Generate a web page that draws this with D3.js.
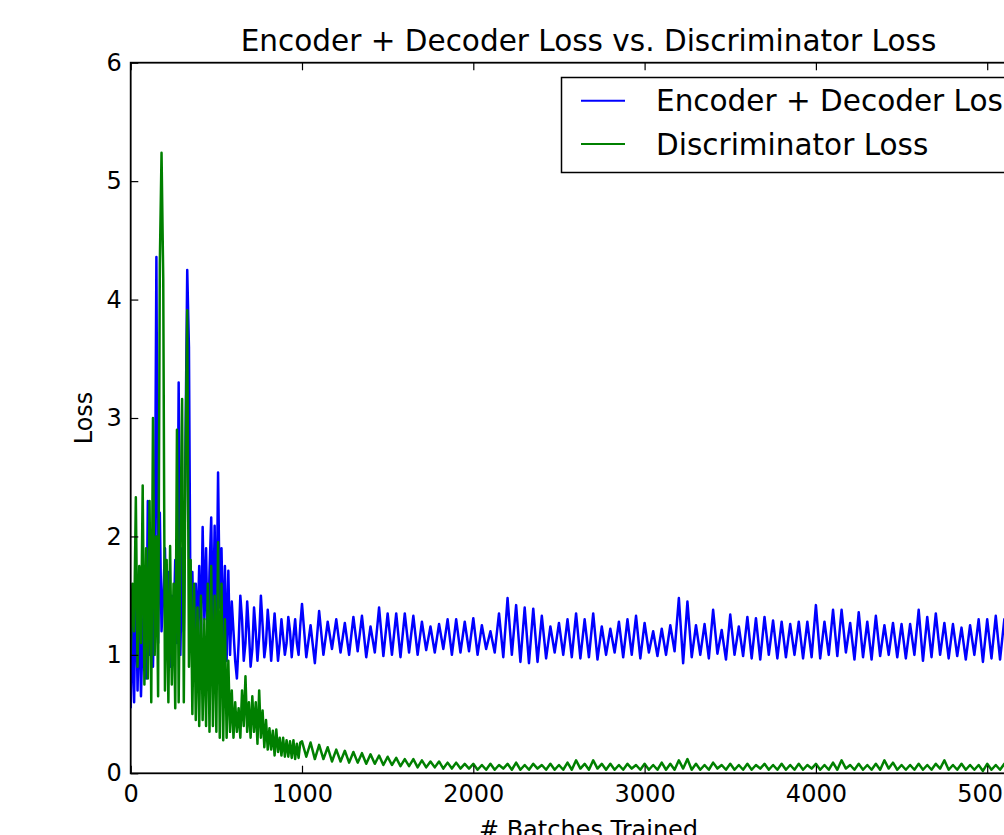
<!DOCTYPE html>
<html>
<head>
<meta charset="utf-8">
<script src="https://cdn.jsdelivr.net/npm/d3@7"></script>
<style>
  body { margin: 0; background: #fff; }
  text { font-family: "DejaVu Sans", sans-serif; fill: #000; }
</style>
</head>
<body>
<div id="chart"></div>
<script>
// Encoder + Decoder Loss vs. Discriminator Loss
const title = 'Encoder + Decoder Loss vs. Discriminator Loss';
const xLabel = '# Batches Trained';
const yLabel = 'Loss';
const seriesNames = ['Encoder + Decoder Loss', 'Discriminator Loss'];
const seriesColors = ['#0000ff', '#008000'];
const xTicks = [0, 1000, 2000, 3000, 4000, 5000];
const yTicks = [0, 1, 2, 3, 4, 5, 6];
const xMax = 5345;

// batches 0..990, every 10
const earlyStep = 10;
const encDecEarly = [
  0.55, 1.3, 0.6, 1.75, 0.7, 1.45, 0.65, 1.2, 1.5, 0.8,
  2.3, 1.0, 1.4, 0.9, 1.6, 4.36, 1.1, 2.2, 1.2, 1.5,
  1.9, 1.0, 1.7, 0.9, 1.5, 1.2, 1.8, 1.1, 3.3, 1.0,
  1.9, 1.2, 2.8, 4.25, 3.6, 1.1, 1.7, 1.0, 1.6, 1.2,
  1.75, 1.1, 2.08, 1.3, 1.9, 1.0, 1.7, 2.16, 1.2, 2.09,
  1.1, 2.54, 1.4, 1.9, 1.1, 1.75, 0.95, 1.71, 1.0, 1.45,
  1.2, 0.95, 0.8, 1.1, 1.5, 1.3, 0.95, 1.1, 1.45, 1.2,
  0.9, 1.05, 1.4, 1.2, 0.95, 1.15, 1.5, 1.25, 0.98, 1.1,
  1.38, 1.2, 0.95, 1.15, 1.35, 1.15, 0.95, 1.1, 1.3, 1.15,
  1.0, 1.1, 1.32, 1.2, 0.98, 1.15, 1.3, 1.1, 1.0, 1.25
];
const discEarly = [
  1.0, 1.6, 1.2, 2.33, 0.9, 1.75, 1.1, 2.43, 0.75, 1.9,
  0.8, 2.3, 0.6, 3.0, 1.0, 2.0, 0.65, 4.3, 5.24, 4.17,
  0.7, 1.8, 0.6, 1.92, 0.75, 1.6, 0.55, 2.9, 0.6, 1.95,
  3.16, 0.6, 2.7, 3.91, 0.9, 1.8, 0.5, 1.6, 0.45, 1.4,
  0.4, 1.5, 0.45, 1.3, 0.4, 1.6, 0.35, 1.75, 0.4, 1.5,
  0.35, 1.95, 0.3, 1.6, 0.28, 1.3, 0.3, 0.95, 0.35, 0.7,
  0.3, 0.6, 0.35, 0.55, 0.3, 0.7, 0.4, 0.82, 0.35, 0.6,
  0.3, 0.65, 0.35, 0.6, 0.25, 0.7, 0.3, 0.53, 0.22, 0.45,
  0.2, 0.38, 0.2, 0.36, 0.15, 0.37, 0.18, 0.3, 0.15, 0.3,
  0.14, 0.28, 0.14, 0.27, 0.13, 0.28, 0.12, 0.25, 0.13, 0.26
];

// batches 1000..5325, every 25
const lateStart = 1000;
const lateStep = 25;
const encDecLate = [
  1.43, 0.98, 1.25, 0.93, 1.37, 1.0, 1.28, 1.05, 1.30, 1.02,
  1.27, 1.0, 1.32, 1.03, 1.33, 0.98, 1.24, 1.02, 1.40, 0.99,
  1.35, 1.0, 1.35, 0.98, 1.35, 1.02, 1.33, 1.0, 1.28, 1.04,
  1.24, 1.02, 1.26, 1.05, 1.3, 1.0, 1.3, 1.02, 1.28, 1.03,
  1.31, 1.0, 1.25, 1.05, 1.2, 1.02, 1.35, 0.98, 1.48, 1.0,
  1.42, 0.94, 1.40, 0.93, 1.39, 0.94, 1.33, 0.97, 1.24, 1.02,
  1.27, 1.0, 1.3, 0.98, 1.35, 0.97, 1.3, 0.98, 1.35, 0.96,
  1.24, 1.0, 1.22, 1.02, 1.28, 0.98, 1.3, 1.0, 1.33, 0.97,
  1.27, 1.02, 1.2, 0.99, 1.22, 1.0, 1.25, 1.03, 1.48, 0.93,
  1.45, 0.98, 1.25, 1.0, 1.26, 0.97, 1.38, 1.01, 1.21, 0.96,
  1.34, 1.0, 1.24, 0.99, 1.32, 0.97, 1.31, 0.96, 1.32, 1.0,
  1.29, 0.97, 1.28, 0.98, 1.26, 1.0, 1.28, 0.97, 1.28, 0.98,
  1.42, 0.97, 1.28, 1.0, 1.38, 0.99, 1.38, 1.02, 1.27, 0.96,
  1.36, 0.98, 1.28, 0.96, 1.33, 0.99, 1.25, 1.0, 1.27, 0.98,
  1.26, 0.97, 1.26, 1.0, 1.38, 0.95, 1.32, 0.98, 1.35, 1.0,
  1.27, 0.97, 1.26, 0.99, 1.23, 0.96, 1.25, 1.0, 1.3, 0.94,
  1.3, 0.97, 1.33, 0.96, 1.3, 0.98, 1.28, 1.0, 1.35, 0.96,
  1.27, 0.98, 1.3, 0.97
];
const discLate = [
  0.27, 0.14, 0.26, 0.12, 0.24, 0.12, 0.22, 0.1, 0.2, 0.1,
  0.19, 0.09, 0.18, 0.09, 0.17, 0.08, 0.16, 0.08, 0.15, 0.07,
  0.14, 0.07, 0.13, 0.06, 0.12, 0.06, 0.12, 0.05, 0.11, 0.05,
  0.1, 0.05, 0.1, 0.04, 0.09, 0.04, 0.09, 0.04, 0.08, 0.04,
  0.08, 0.03,
  0.07, 0.03, 0.08, 0.03, 0.07, 0.04, 0.08, 0.03, 0.09, 0.03,
  0.07, 0.03, 0.08, 0.04, 0.07, 0.03, 0.08, 0.03, 0.07, 0.03,
  0.09, 0.03, 0.11, 0.04, 0.08, 0.03, 0.11, 0.04, 0.08, 0.03,
  0.08, 0.03, 0.07, 0.03, 0.08, 0.04, 0.07, 0.03, 0.08, 0.03,
  0.07, 0.03, 0.09, 0.03, 0.08, 0.03, 0.11, 0.04, 0.12, 0.03,
  0.08, 0.03, 0.07, 0.03, 0.09, 0.04, 0.07, 0.03, 0.08, 0.03,
  0.07, 0.03, 0.08, 0.03, 0.07, 0.04, 0.08, 0.03, 0.07, 0.03,
  0.08, 0.03, 0.07, 0.03, 0.08, 0.03, 0.07, 0.04, 0.08, 0.03,
  0.07, 0.03, 0.09, 0.03, 0.11, 0.04, 0.07, 0.03, 0.08, 0.03,
  0.07, 0.03, 0.08, 0.03, 0.11, 0.04, 0.09, 0.03, 0.07, 0.03,
  0.07, 0.03, 0.08, 0.03, 0.07, 0.03, 0.08, 0.04, 0.11, 0.03,
  0.07, 0.03, 0.08, 0.03, 0.07, 0.03, 0.07, 0.02, 0.08, 0.03,
  0.07, 0.03, 0.08, 0.03, 0.07, 0.03, 0.08, 0.03, 0.07, 0.03,
  0.07, 0.03
];

const toPoints = (early, late) =>
  early.map((v, i) => [i * earlyStep, v])
    .concat(late.map((v, i) => [lateStart + i * lateStep, v]));

const series = [toPoints(encDecEarly, encDecLate), toPoints(discEarly, discLate)];

const width = 1004, height = 835;
const plot = {left: 130.7, right: 1046.3, top: 62.7, bottom: 773.3};

const svg = d3.select('#chart').append('svg')
  .attr('width', width)
  .attr('height', height)
  .style('display', 'block');

svg.append('rect').attr('width', width).attr('height', height).attr('fill', '#fff');

const x = d3.scaleLinear().domain([0, xMax]).range([plot.left, plot.right]);
const y = d3.scaleLinear().domain([0, 6]).range([plot.bottom, plot.top]);

svg.append('clipPath').attr('id', 'plotClip')
  .append('rect')
  .attr('x', plot.left).attr('y', plot.top)
  .attr('width', plot.right - plot.left).attr('height', plot.bottom - plot.top);

const line = d3.line().x(d => x(d[0])).y(d => y(d[1]));

svg.append('g').attr('clip-path', 'url(#plotClip)')
  .selectAll('path')
  .data(series).enter().append('path')
  .attr('d', line)
  .attr('fill', 'none')
  .attr('stroke', (d, i) => seriesColors[i])
  .attr('stroke-width', 2.5)
  .attr('stroke-linejoin', 'round');

// ticks point inward on all four sides
const tickLen = 7.6;
const styleAxis = g => {
  g.select('.domain').remove();
  g.selectAll('.tick line').attr('stroke', '#000').attr('stroke-width', 1.2);
  g.selectAll('.tick text')
    .style('font-family', '"DejaVu Sans", sans-serif')
    .style('font-size', '24px')
    .attr('fill', '#000');
};

svg.append('g').attr('transform', `translate(0,${plot.bottom})`)
  .call(d3.axisBottom(x).tickValues(xTicks).tickSizeInner(-tickLen).tickSizeOuter(0)
    .tickPadding(12).tickFormat(d3.format('d')))
  .call(styleAxis);

svg.append('g').attr('transform', `translate(0,${plot.top})`)
  .call(d3.axisTop(x).tickValues(xTicks).tickSizeInner(-tickLen).tickSizeOuter(0).tickFormat(''))
  .call(styleAxis);

svg.append('g').attr('transform', `translate(${plot.left},0)`)
  .call(d3.axisLeft(y).tickValues(yTicks).tickSizeInner(-tickLen).tickSizeOuter(0)
    .tickPadding(9).tickFormat(d3.format('d')))
  .call(styleAxis);

svg.append('g').attr('transform', `translate(${plot.right},0)`)
  .call(d3.axisRight(y).tickValues(yTicks).tickSizeInner(-tickLen).tickSizeOuter(0).tickFormat(''))
  .call(styleAxis);

svg.append('rect')
  .attr('x', plot.left).attr('y', plot.top)
  .attr('width', plot.right - plot.left).attr('height', plot.bottom - plot.top)
  .attr('fill', 'none')
  .attr('stroke', '#000')
  .attr('stroke-width', 1.8);

svg.append('text')
  .attr('x', (plot.left + plot.right) / 2)
  .attr('y', 51)
  .attr('text-anchor', 'middle')
  .style('font-size', '29.5px')
  .text(title);

svg.append('text')
  .attr('x', (plot.left + plot.right) / 2)
  .attr('y', 838)
  .attr('text-anchor', 'middle')
  .style('font-size', '24px')
  .text(xLabel);

svg.append('text')
  .attr('transform', `translate(92,${(plot.top + plot.bottom) / 2}) rotate(-90)`)
  .attr('text-anchor', 'middle')
  .style('font-size', '24px')
  .text(yLabel);

// legend, upper right
const legend = svg.append('g');
legend.append('rect')
  .attr('x', 561.5).attr('y', 77.5)
  .attr('width', 474).attr('height', 95)
  .attr('fill', '#fff')
  .attr('stroke', '#000')
  .attr('stroke-width', 1.5);

const item = legend.selectAll('g.item')
  .data(seriesNames).enter().append('g')
  .attr('class', 'item')
  .attr('transform', (d, i) => `translate(0,${100.7 + i * 43.3})`);

item.append('line')
  .attr('x1', 581).attr('x2', 625)
  .attr('stroke', (d, i) => seriesColors[i])
  .attr('stroke-width', 2);

item.append('text')
  .attr('x', 656)
  .attr('y', 10.5)
  .style('font-size', '29.5px')
  .text(d => d);
</script>
</body>
</html>
